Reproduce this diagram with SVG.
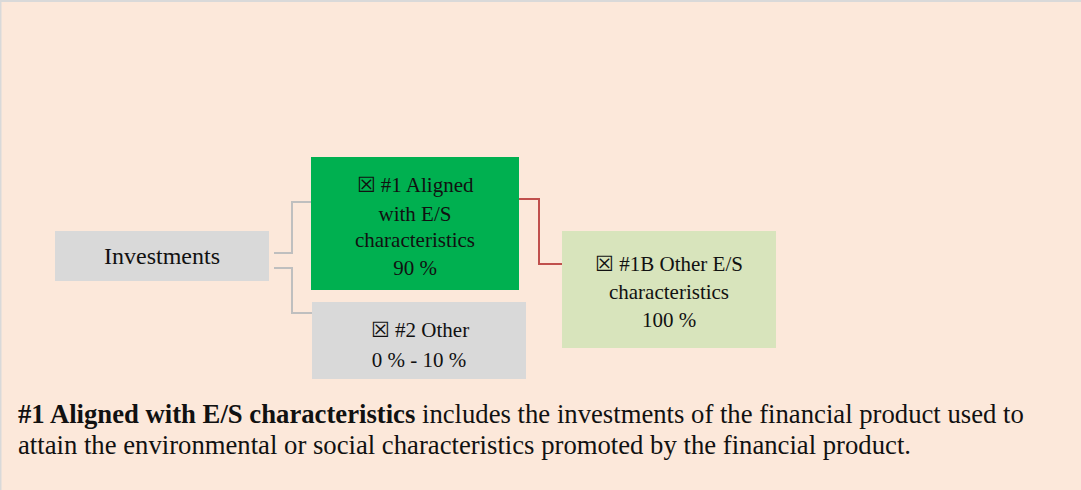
<svg xmlns="http://www.w3.org/2000/svg" width="1081" height="490" viewBox="0 0 1081 490">
<style>
.t{font-family:"Liberation Serif","Times New Roman",serif;font-size:21px;fill:#111;text-anchor:middle}
.big{font-size:24px}
.b{font-family:"Liberation Serif","Times New Roman",serif;font-size:26.7px;fill:#111}
.g{fill:none;stroke:#BFBFBF;stroke-width:2}
.r{fill:none;stroke:#C0504D;stroke-width:2}
</style>
<rect x="0" y="0" width="1081" height="490" fill="#FCE8DA"/>
<rect x="0" y="0" width="1081" height="2" fill="#D9D9D9"/>
<rect x="0" y="0" width="1.5" height="490" fill="#D9D9D9"/>
<g id="connectors">
<path class="g" d="M274 253H292V202H311"/>
<path class="g" d="M274 268H292V313H312"/>
<path class="r" d="M519 199H539V264H562"/>
</g>
<g id="investments">
<rect x="55" y="231" width="214" height="50" fill="#D9D9D9"/>
<text class="t big" x="162" y="264">Investments</text>
</g>
<g id="aligned">
<rect x="311" y="157" width="208" height="133" fill="#00B050"/>
<text class="t" x="415" y="192">☒ #1 Aligned</text>
<text class="t" x="415" y="221">with E/S</text>
<text class="t" x="415" y="247">characteristics</text>
<text class="t" x="415" y="275">90 %</text>
</g>
<g id="other">
<rect x="312" y="302" width="214" height="77" fill="#D9D9D9"/>
<text class="t" x="420" y="337">☒ #2 Other</text>
<text class="t" x="419" y="367">0 % - 10 %</text>
</g>
<g id="otheres">
<rect x="562" y="231" width="214" height="117" fill="#D8E4BC"/>
<text class="t" x="669" y="271">☒ #1B Other E/S</text>
<text class="t" x="669" y="299">characteristics</text>
<text class="t" x="669" y="327">100 %</text>
</g>
<g id="note">
<text class="b" x="18" y="423"><tspan font-weight="bold">#1 Aligned with E/S characteristics</tspan> includes the investments of the financial product used to</text>
<text class="b" x="18" y="454">attain the environmental or social characteristics promoted by the financial product.</text>
</g>
</svg>
